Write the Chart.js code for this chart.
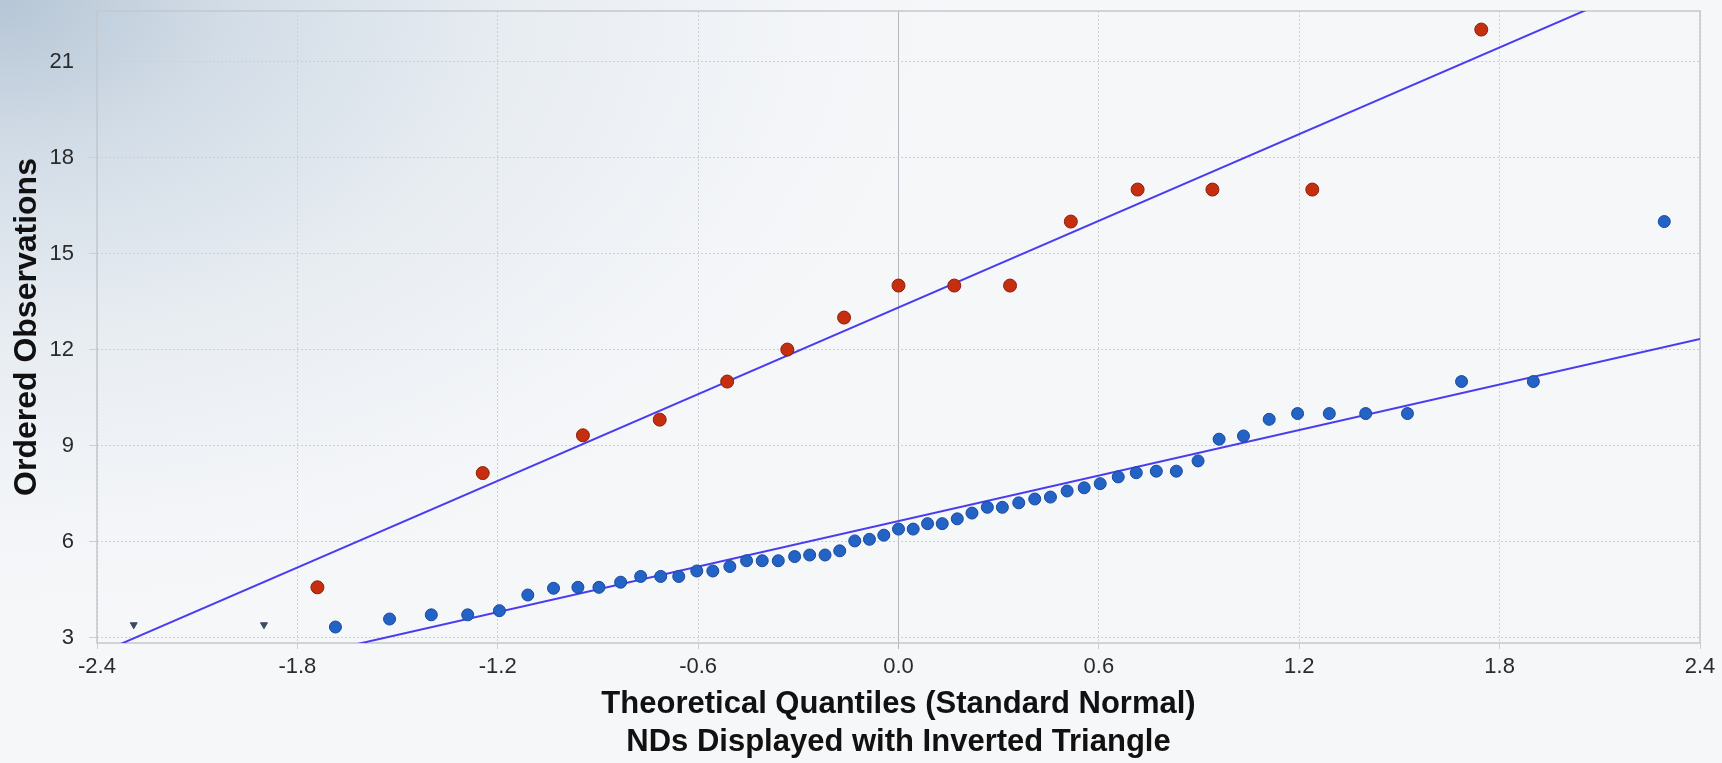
<!DOCTYPE html>
<html>
<head>
<meta charset="utf-8">
<title>Q-Q Plot</title>
<script src="https://cdn.jsdelivr.net/npm/chart.js@4.4.0/dist/chart.umd.min.js"></script>
<style>
    html, body { margin: 0; padding: 0; }
    body {
        width: 1722px; height: 763px; overflow: hidden;
        background: radial-gradient(ellipse 950px 620px at 0 0, #b6c6d6 0%, #d3dde7 25%, #e8edf2 55%, #f3f5f8 85%, #f6f7f9 100%);
    }
    canvas { display: block; }
</style>
</head>
<body>
<canvas id="qqChart" width="1722" height="763"></canvas>
<script>
// Theoretical quantiles / ordered observations
const redX = [-1.74, -1.245, -0.945, -0.715, -0.513, -0.333, -0.163, 0.0, 0.167, 0.334, 0.516, 0.716, 0.94, 1.239, 1.745];
const redY = [4.57, 8.14, 9.32, 9.81, 11.0, 12.0, 13.0, 14.0, 14.0, 14.0, 16.0, 17.0, 17.0, 17.0, 22.0];

const blueX = [-1.686, -1.524, -1.399, -1.290, -1.195, -1.110, -1.033, -0.960, -0.897, -0.832,
    -0.772, -0.712, -0.658, -0.604, -0.556, -0.505, -0.455, -0.408, -0.360, -0.311,
    -0.266, -0.220, -0.176, -0.131, -0.087, -0.044, 0.000, 0.044, 0.087, 0.131,
    0.176, 0.220, 0.266, 0.311, 0.360, 0.408, 0.455, 0.505, 0.556, 0.604,
    0.658, 0.712, 0.772, 0.832, 0.897, 0.960, 1.033, 1.110, 1.195, 1.290,
    1.399, 1.524, 1.686, 1.901, 2.293];
const blueY = [3.33, 3.58, 3.71, 3.71, 3.84, 4.33, 4.54, 4.57, 4.57, 4.73,
    4.91, 4.91, 4.91, 5.08, 5.08, 5.22, 5.40, 5.40, 5.40, 5.53,
    5.58, 5.58, 5.71, 6.02, 6.07, 6.20, 6.39, 6.39, 6.56, 6.56,
    6.71, 6.89, 7.07, 7.07, 7.21, 7.33, 7.39, 7.58, 7.68, 7.81,
    8.02, 8.15, 8.20, 8.20, 8.52, 9.20, 9.30, 9.82, 10.0, 10.0,
    10.0, 10.0, 11.0, 11.0, 16.0];

// non-detects (inverted triangles)
const ndX = [-2.29, -1.90];
const ndY = [3.40, 3.40];

// fitted lines, end values at the x-axis limits
const fitX = [-2.4, 2.4];
const redFitY = [2.48, 24.15];
const blueFitY = [0.95, 12.33];

const xTicks = [-2.4, -1.8, -1.2, -0.6, 0.0, 0.6, 1.2, 1.8, 2.4];
const yTicks = [3, 6, 9, 12, 15, 18, 21];

const toPoints = (xs, ys) => xs.map((x, i) => ({ x: x, y: ys[i] }));

const tickFont = { family: "'Liberation Sans Narrow', 'Liberation Sans', Arial, sans-serif", size: 22 };
const titleFont = { family: "'Liberation Sans', Arial, sans-serif", size: 31, weight: 'bold', lineHeight: 1.23 };
const gridColor = ctx => (ctx.tick && ctx.tick.value === 0 ? '#b4b8be' : '#cbcfd5');
const gridDash = ctx => (ctx.tick && ctx.tick.value === 0 ? [] : [2, 2]);

// light frame round the plot area
const plotFrame = {
    id: 'plotFrame',
    beforeDatasetsDraw(chart) {
        const { ctx, chartArea: a } = chart;
        ctx.save();
        ctx.strokeStyle = '#c3c7cd';
        ctx.lineWidth = 1.5;
        ctx.strokeRect(a.left, a.top, a.right - a.left, a.bottom - a.top);
        ctx.restore();
    }
};

new Chart(document.getElementById('qqChart').getContext('2d'), {
    type: 'scatter',
    data: {
        datasets: [
            {
                label: 'Series A',
                data: toPoints(redX, redY),
                pointRadius: 6.5,
                backgroundColor: '#c62e10',
                borderColor: '#8e1f08',
                borderWidth: 1,
                order: 1
            },
            {
                label: 'Series B',
                data: toPoints(blueX, blueY),
                pointRadius: 6,
                backgroundColor: '#2463c6',
                borderColor: '#18489a',
                borderWidth: 1,
                order: 1
            },
            {
                label: 'NDs',
                data: toPoints(ndX, ndY),
                pointStyle: 'triangle',
                rotation: 180,
                pointRadius: 4,
                backgroundColor: '#3b4a60',
                borderColor: '#3b4a60',
                borderWidth: 1,
                order: 1
            },
            {
                label: 'Fit A',
                data: toPoints(fitX, redFitY),
                showLine: true,
                pointRadius: 0,
                borderColor: '#4a3cf0',
                borderWidth: 2,
                order: 2
            },
            {
                label: 'Fit B',
                data: toPoints(fitX, blueFitY),
                showLine: true,
                pointRadius: 0,
                borderColor: '#4a3cf0',
                borderWidth: 2,
                order: 2
            }
        ]
    },
    options: {
        responsive: false,
        animation: false,
        devicePixelRatio: 1,
        layout: { padding: { top: 11, right: 22, bottom: 0, left: 0 } },
        plugins: {
            legend: { display: false },
            tooltip: { enabled: false }
        },
        scales: {
            x: {
                type: 'linear',
                min: -2.4,
                max: 2.4,
                afterBuildTicks: s => { s.ticks = xTicks.map(v => ({ value: v })); },
                afterFit: s => { s.height = 120; s.paddingLeft = 0; s.paddingRight = 0; },
                grid: { color: gridColor, tickLength: 6, lineWidth: 1 },
                border: { display: false, dash: gridDash },
                ticks: {
                    color: '#2b2b2b',
                    font: tickFont,
                    padding: 5,
                    maxRotation: 0,
                    callback: v => Number(v).toFixed(1)
                },
                title: {
                    display: true,
                    text: ['Theoretical Quantiles (Standard Normal)', 'NDs Displayed with Inverted Triangle'],
                    color: '#111111',
                    font: titleFont,
                    padding: { top: 0, bottom: 1 }
                }
            },
            y: {
                type: 'linear',
                min: 2.83,
                max: 22.58,
                afterBuildTicks: s => { s.ticks = yTicks.map(v => ({ value: v })); },
                afterFit: s => { s.width = 97; s.paddingTop = 0; s.paddingBottom = 0; },
                grid: { color: gridColor, tickLength: 8, lineWidth: 1 },
                border: { display: false, dash: gridDash },
                ticks: {
                    color: '#2b2b2b',
                    font: tickFont,
                    padding: 15,
                    callback: v => String(v)
                },
                title: {
                    display: true,
                    text: 'Ordered Observations',
                    color: '#111111',
                    font: { family: "'Liberation Sans', Arial, sans-serif", size: 32, weight: 'bold', lineHeight: 1.2 },
                    padding: { top: 8, bottom: 0 }
                }
            }
        }
    },
    plugins: [plotFrame]
});
</script>
</body>
</html>
